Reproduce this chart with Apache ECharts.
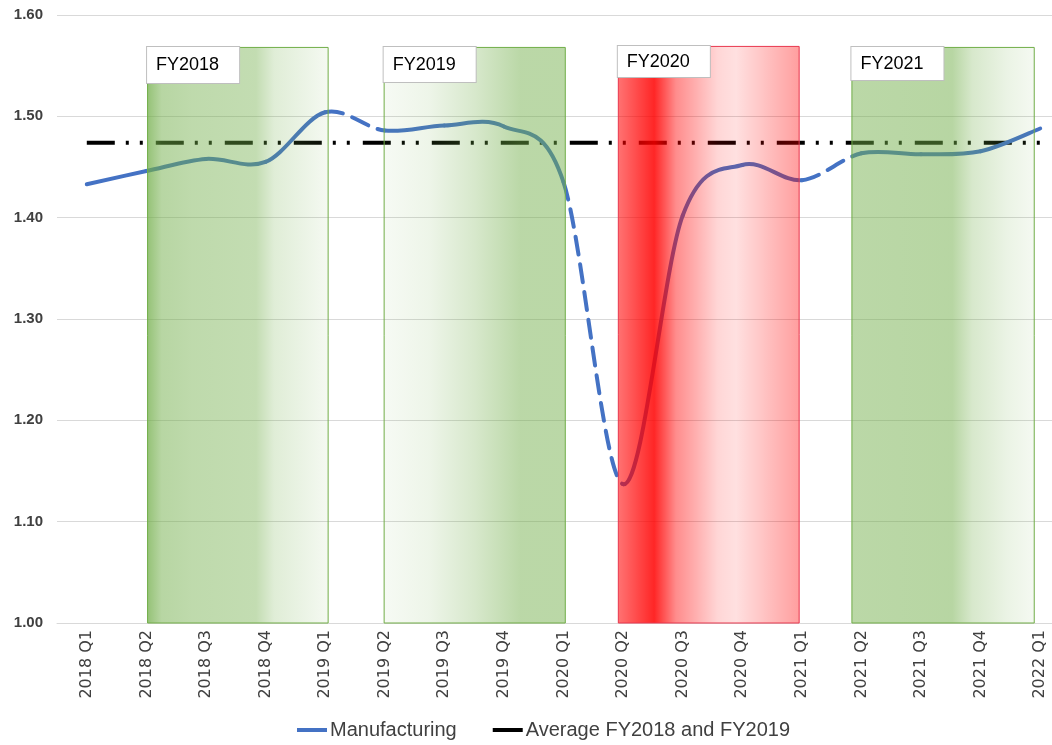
<!DOCTYPE html>
<html>
<head>
<meta charset="utf-8">
<script src="https://cdn.jsdelivr.net/npm/echarts@6/dist/echarts.min.js"></script>
<style>html,body{margin:0;padding:0;background:#fff}#c{width:1052px;height:745px}</style>
</head>
<body>
<div id="c"></div>
<script>
const categories = ['2018 Q1','2018 Q2','2018 Q3','2018 Q4','2019 Q1','2019 Q2','2019 Q3','2019 Q4','2020 Q1','2020 Q2','2020 Q3','2020 Q4','2021 Q1','2021 Q2','2021 Q3','2021 Q4','2022 Q1'];
const manufacturing = [1.433,1.446,1.458,1.455,1.504,1.486,1.491,1.490,1.435,1.137,1.402,1.452,1.437,1.4635,1.4625,1.4655,1.488];
const averageFY18FY19 = 1.474;
const yTicks = {min: 1.0, max: 1.6, interval: 0.1};
// fiscal-year boxes
const fyLabels = ['FY2018','FY2019','FY2020','FY2021'];
const fyStart = [1.02, 4.99, 8.92, 12.84];
const fyEnd = [4.05, 8.03, 11.955, 15.90];
const fyTop = [1.568, 1.568, 1.569, 1.568];
// segments (start index) drawn dashed: the links between fiscal-year boxes
const dashedFrom = [4, 8, 12];

function greenGrad(stops){
  return {type:'linear',x:0,y:0,x2:1,y2:0,colorStops:stops.map(s=>({offset:s[0],color:'rgba(112,173,71,'+s[1]+')'}))};
}
function redGrad(stops){
  return {type:'linear',x:0,y:0,x2:1,y2:0,colorStops:stops.map(s=>({offset:s[0],color:'rgba(255,0,0,'+s[1]+')'}))};
}
const fills = [
  greenGrad([[0,0.75],[0.08,0.5],[0.25,0.45],[0.6,0.42],[0.7,0.22],[0.9,0.12],[1,0.07]]),
  greenGrad([[0,0.06],[0.25,0.12],[0.5,0.28],[0.75,0.48],[1,0.48]]),
  redGrad([[0,0.55],[0.2,0.85],[0.32,0.45],[0.55,0.16],[0.65,0.12],[1,0.38]]),
  greenGrad([[0,0.48],[0.55,0.5],[0.66,0.28],[0.85,0.14],[1,0.07]])
];
const borders = ['#70ad47','#70ad47','#e8364e','#70ad47'];
const labelPads = [[8,20,8,9],[8,20,7,9],[6,20,5,9],[7,20,6,9]];

const areas = fyLabels.map((lab,i)=>[
  {name: lab, xAxis: fyStart[i], yAxis: fyTop[i],
   itemStyle:{color: fills[i], borderColor: borders[i], borderWidth: 1, opacity: 1},
   label: {padding: labelPads[i]}},
  {xAxis: fyEnd[i], yAxis: 1.0}
]);

// smoothed (Catmull-Rom style) segment from point i to i+1, positioned through the axes
function renderSegment(params, api){
  const i = params.dataIndex;
  const n = manufacturing.length;
  if (i >= n - 1) return null;
  const P = k => { const c = Math.max(0, Math.min(n-1, k)); return api.coord([c, manufacturing[c]]); };
  const p0 = P(i-1), p1 = P(i), p2 = P(i+1), p3 = P(i+2);
  const t = 1/6;
  const dashed = dashedFrom.indexOf(i) >= 0;
  return {
    type: 'bezierCurve',
    shape: {
      x1: p1[0], y1: p1[1], x2: p2[0], y2: p2[1],
      cpx1: p1[0] + (p2[0]-p0[0])*t, cpy1: p1[1] + (p2[1]-p0[1])*t,
      cpx2: p2[0] - (p3[0]-p1[0])*t, cpy2: p2[1] - (p3[1]-p1[1])*t
    },
    style: {
      fill: null, stroke: '#4472c4', lineWidth: 4, lineCap: 'round',
      lineDash: dashed ? [18, 10] : null
    }
  };
}

const FONT = 'Liberation Sans, Arial, sans-serif';
const chart = echarts.init(document.getElementById('c'), null, {renderer:'canvas'});
chart.setOption({
  animation: false,
  backgroundColor: '#fff',
  grid: {left: 57, top: 15, width: 1013, height: 608, containLabel: false, outerBoundsMode: 'none'},
  xAxis: [{
    type: 'category', data: categories, boundaryGap: true,
    axisLine: {show: true, lineStyle: {color: '#d9d9d9', width: 1}},
    axisTick: {show: false},
    axisLabel: {rotate: 90, interval: 0, margin: 7, color: '#404040', fontSize: 16, fontFamily: 'DejaVu Sans, sans-serif'},
    splitLine: {show: false}
  },{
    type: 'value', min: -0.5, max: 16.5, show: false, splitLine:{show:false}
  }],
  yAxis: {
    type: 'value', min: yTicks.min, max: yTicks.max, interval: yTicks.interval,
    axisLine: {show: false}, axisTick: {show: false},
    axisLabel: {formatter: v => v.toFixed(2), color: '#404040', fontSize: 15, fontWeight: 'bold', margin: 14, fontFamily: FONT},
    splitLine: {lineStyle: {color: '#d9d9d9', width: 1}}
  },
  legend: {
    bottom: 0, left: 292, itemWidth: 30, itemHeight: 4, itemGap: 36,
    icon: 'rect',
    textStyle: {fontSize: 20, color: '#404040', fontFamily: FONT, padding: [0,0,0,-2]},
    data: [
      {name: 'Manufacturing', itemStyle: {color: '#4472c4'}},
      {name: 'Average FY2018 and FY2019', itemStyle: {color: '#000'}}
    ]
  },
  series: [
    {
      name: 'Average FY2018 and FY2019', type: 'line', z: 2,
      data: categories.map(()=>averageFY18FY19), showSymbol: false, symbol: 'none',
      lineStyle: {color: '#000', width: 4, type: [28,11,3,11,3,13], cap: 'butt'},
      itemStyle: {color: '#000'}
    },
    {
      name: 'Manufacturing', type: 'custom', z: 3,
      data: manufacturing.map((v,i)=>[i, v]),
      renderItem: renderSegment,
      itemStyle: {color: '#4472c4'},
      encode: {x: 0, y: 1}
    },
    {
      name: 'FY boxes', type: 'line', xAxisIndex: 1, data: [], z: 10,
      markArea: {
        silent: true, z: 10,
        label: {
          show: true, position: 'insideTopLeft', distance: 0,
          color: '#000', fontSize: 18, fontFamily: FONT,
          backgroundColor: '#fff', borderColor: '#bfbfbf', borderWidth: 1,
          padding: [8, 20, 8, 9], lineHeight: 20
        },
        data: areas
      }
    }
  ]
});
</script>
</body>
</html>
